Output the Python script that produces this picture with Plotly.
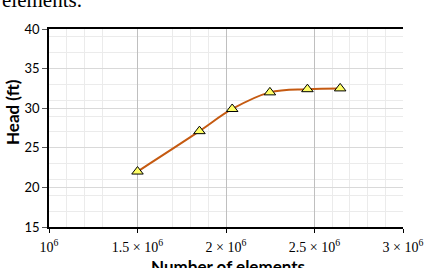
import plotly.graph_objects as go

# Data
num_elements = [1.50e6, 1.85e6, 2.035e6, 2.248e6, 2.46e6, 2.645e6]
head_ft = [22.0, 27.1, 29.9, 32.0, 32.4, 32.5]

x_tickvals = [1.0e6, 1.5e6, 2.0e6, 2.5e6, 3.0e6]
x_ticktext = ["10<sup>6</sup>", "1.5 × 10<sup>6</sup>", "2 × 10<sup>6</sup>",
              "2.5 × 10<sup>6</sup>", "3 × 10<sup>6</sup>"]
x_major_grid = [1.5e6, 2.0e6, 2.5e6]
x_minor_vals = [1.1e6, 1.2e6, 1.3e6, 1.7e6, 1.8e6, 1.9e6, 2.6e6, 2.7e6, 2.8e6, 2.9e6]

W, H = 438, 268
L, R, T, B = 49, 35, 29, 41
pw, ph = W - L - R, H - T - B

def px(xp):
    return (xp - L) / pw

def py(yp):
    return (H - B - yp) / ph

fig = go.Figure()
# invisible helper trace so the grid-only overlay axis is rendered
fig.add_trace(go.Scatter(x=[x_major_grid[0]], y=[head_ft[0]], xaxis="x2", mode="markers",
                         marker=dict(opacity=0), hoverinfo="skip", showlegend=False))
fig.add_trace(go.Scatter(
    x=num_elements, y=head_ft, mode="lines+markers",
    line=dict(shape="spline", smoothing=1, color="#C55A11", width=2),
    marker=dict(symbol="triangle-up", size=10, color="#FFFF66",
                line=dict(color="black", width=1)),
    showlegend=False,
))

fig.update_layout(
    width=W, height=H,
    margin=dict(l=L, r=R, t=T, b=B),
    paper_bgcolor="white", plot_bgcolor="white",
    xaxis=dict(
        range=[1e6, 3e6], tickmode="array", tickvals=x_tickvals, ticktext=x_ticktext,
        tickfont=dict(family="Liberation Serif", size=14, color="black"),
        ticklabelstandoff=2,
        showline=True, linecolor="black", linewidth=1.5, mirror=True,
        ticks="outside", ticklen=4, tickcolor="black",
        showgrid=False, zeroline=False,
        minor=dict(tickmode="array", tickvals=x_minor_vals, showgrid=True,
                   gridcolor="#ebebeb", gridwidth=1),
    ),
    xaxis2=dict(
        overlaying="x", anchor="y", range=[1e6, 3e6], tickmode="array",
        tickvals=x_major_grid, showticklabels=False, ticks="",
        showgrid=True, gridcolor="#bfbfbf", gridwidth=1, zeroline=False, showline=False,
    ),
    yaxis=dict(
        range=[15, 40], tick0=15, dtick=5,
        tickfont=dict(family="Lato", size=13, color="black"),
        showline=True, linecolor="black", linewidth=1.5,
        ticks="outside", ticklen=5, tickcolor="#595959",
        showgrid=True, gridcolor="#d9d9d9", gridwidth=1, zeroline=False,
        minor=dict(tick0=15, dtick=2, showgrid=True, gridcolor="#ebebeb", gridwidth=1),
    ),
    annotations=[
        dict(text="<b>Head (ft)</b>", textangle=-90, xref="paper", yref="paper",
             x=px(12), y=py(112), xanchor="center", yanchor="middle", showarrow=False,
             font=dict(family="Lato", size=17, color="black")),
        dict(text="<b>Number of elements</b>", xref="paper", yref="paper",
             x=px(228), y=py(254), xanchor="center", yanchor="top", showarrow=False,
             font=dict(family="Lato", size=17, color="black")),
        dict(text="elements.", xref="paper", yref="paper",
             x=px(0), y=py(14), xanchor="left", yanchor="bottom", showarrow=False,
             font=dict(family="Liberation Serif", size=21, color="black")),
    ],
)

fig.write_html("out.html")
